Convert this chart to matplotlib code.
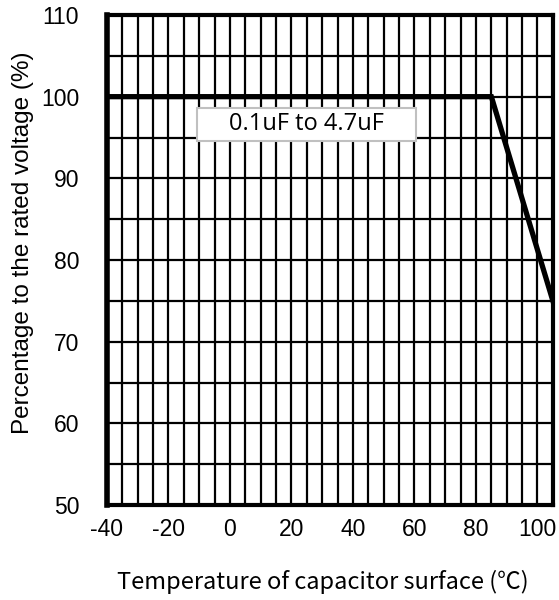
import matplotlib
matplotlib.use("Agg")
import matplotlib.pyplot as plt
from matplotlib.ticker import MultipleLocator
from matplotlib.patches import Rectangle

plt.rcParams['font.family'] = ['Liberation Sans', 'DejaVu Sans']
plt.rcParams['axes.unicode_minus'] = False

# derating curve
temp = [-40, 85, 105]
volt_pct = [100, 100, 75]
curve_label = "0.1uF to 4.7uF"

x_ticks = [-40, -20, 0, 20, 40, 60, 80, 100]
y_ticks = [50, 60, 70, 80, 90, 100, 110]

fig = plt.figure(figsize=(5.59, 6), dpi=100)
ax = fig.add_axes([0.1914, 0.1583, 0.7976, 0.8167])

ax.plot(temp, volt_pct, color='black', lw=3.8, solid_joinstyle='miter', zorder=3)

ax.set_xlim(-40, 105)
ax.set_ylim(50, 110)
ax.set_xticks(x_ticks)
ax.set_yticks(y_ticks)
ax.xaxis.set_minor_locator(MultipleLocator(5))
ax.yaxis.set_minor_locator(MultipleLocator(5))
ax.grid(which='both', color='black', lw=1.6)
ax.set_axisbelow(True)

ax.tick_params(which='both', length=0)
ax.tick_params(axis='x', pad=9, labelsize=16.5)
ax.tick_params(axis='y', pad=20, labelsize=16.5)

for s in ax.spines.values():
    s.set_linewidth(3)
ax.spines['left'].set_linewidth(4)

# label box
ax.add_patch(Rectangle((-10.8, 94.6), 71.4, 4.0, fc='white', ec='#c0c0c0',
                       lw=1.5, zorder=4))
ax.text(25, 96.6, curve_label, ha='center', va='center', fontsize=17,
        family='Open Sans', zorder=5)

ax.set_ylabel("Percentage to the rated voltage (%)", fontsize=17.5)
ax.yaxis.set_label_coords(-0.163, 0.535)
ax.set_xlabel("Temperature of capacitor surface (℃)", fontsize=17,
              family=['Noto Sans CJK JP', 'DejaVu Sans'])
ax.xaxis.set_label_coords(0.483, -0.133)

fig.savefig("out.png", dpi=100)
